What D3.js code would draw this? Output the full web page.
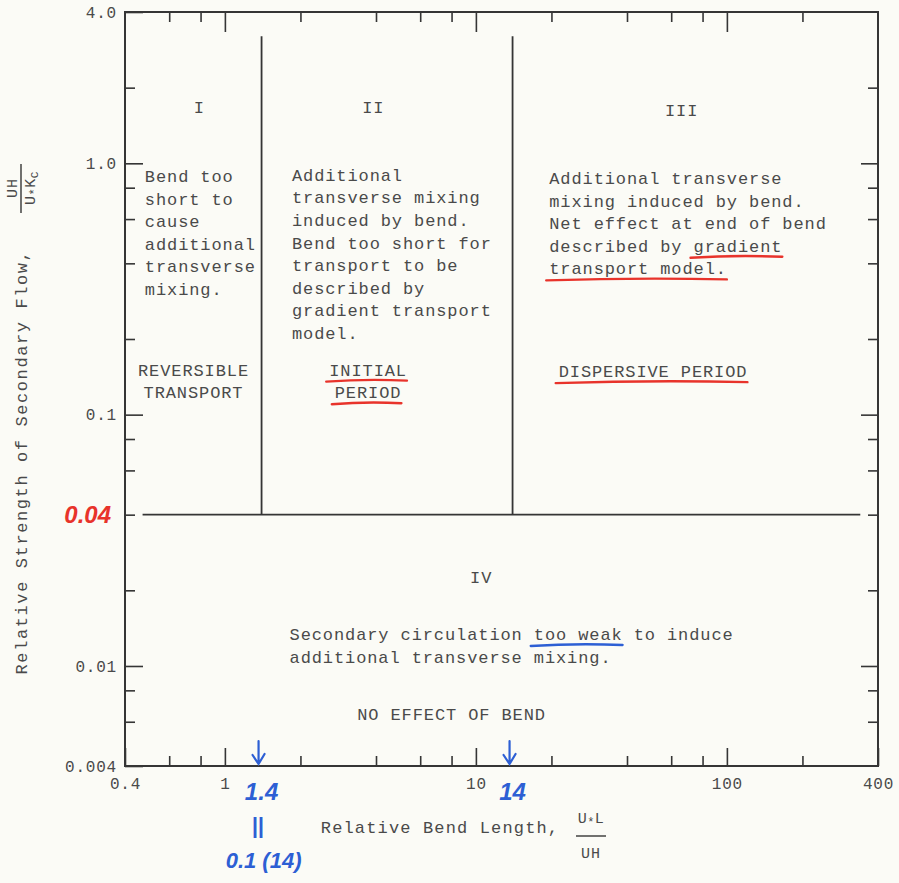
<!DOCTYPE html>
<html>
<head>
<meta charset="utf-8">
<script src="https://cdn.jsdelivr.net/npm/d3@7"></script>
<style>
body { margin: 0; background: #fbfbf6; }
svg { display: block; }
</style>
</head>
<body>
<script>
var width = 899,
    height = 883;

// axes (log-log)
var xDomain = [0.4, 400];
var yDomain = [0.004, 4];
var xMinorTicks = [0.6, 0.8, 2, 4, 6, 8, 20, 40, 60, 80, 200];
var xMajorTicks = [1, 10, 100];
var xLabelVals = [0.4, 1, 10, 100, 400];
var xLabelText = ['0.4', '1', '10', '100', '400'];
var yMinorTicks = [0.006, 0.008, 0.02, 0.04, 0.06, 0.08, 0.2, 0.4, 0.6, 0.8, 2];
var yMajorTicks = [0.01, 0.1, 1];
var yLabelVals = [0.004, 0.01, 0.1, 1, 4];
var yLabelText = ['0.004', '0.01', '0.1', '1.0', '4.0'];

// region boundaries
var flowLimit = 0.04;
var bendLimits = [1.4, 14];
var boundTop = 3.2;
var flowLineX = [0.47, 340];

// region texts
var regionNames = ['I', 'II', 'III', 'IV'];
var regionNameX = [0.79, 3.9, 66, 10.5];
var regionNameY = [1.68, 1.68, 1.63, 0.0225];
var regionText = [
    ['Bend too', 'short to', 'cause', 'additional', 'transverse', 'mixing.'],
    ['Additional', 'transverse mixing', 'induced by bend.', 'Bend too short for',
     'transport to be', 'described by', 'gradient transport', 'model.'],
    ['Additional transverse', 'mixing induced by bend.', 'Net effect at end of bend',
     'described by gradient', 'transport model.'],
    ['Secondary circulation too weak to induce', 'additional transverse mixing.']
];
var regionTextX = [0.48, 1.85, 19.6, 1.81];
var regionTextY = [0.89, 0.9, 0.874, 0.0134];
var periodNames = [['REVERSIBLE', 'TRANSPORT'], ['INITIAL', 'PERIOD'], ['DISPERSIVE PERIOD'], ['NO EFFECT OF BEND']];
var periodX = [0.75, 3.72, 50.8, 8];
var periodY = [0.151, 0.151, 0.149, 0.00644];

// pen marks: [block, index, line, firstChar, lastChar]
var redMarks = [['text', 2, 3, 13, 21], ['text', 2, 4, 0, 16], ['period', 1, 0, 0, 7], ['period', 1, 1, 0, 6], ['period', 2, 0, 0, 17]];
var blueMarks = [['text', 3, 0, 22, 30]];
var arrowsAt = [1.4, 14];

var ink = '#353535',
    type = '#4a4a4a',
    red = '#e8332b',
    blue = '#2d5fd4',
    mono = '"Liberation Mono", "DejaVu Sans Mono", monospace',
    hand = '"Liberation Sans", "DejaVu Sans", sans-serif';

var fs = 17, ls = 0.9, adv = fs * 0.6 + ls, lineH = 22.6;

var svg = d3.select('body').append('svg')
    .attr('width', width)
    .attr('height', height);

var x = d3.scaleLog().domain(xDomain).range([125, 878]);
var y = d3.scaleLog().domain(yDomain).range([766, 12]);

function styleAxis(g, fontSize) {
    g.attr('font-family', mono).attr('font-size', fontSize).attr('color', ink);
    g.select('.domain').remove();
    g.selectAll('line').attr('stroke-width', 1.6);
    g.selectAll('text').attr('fill', type).attr('letter-spacing', 0.8);
}

function axis(gen, vals, size, pad, labels, transform) {
    var g = svg.append('g').attr('transform', transform)
        .call(gen.tickValues(vals).tickSizeInner(size).tickSizeOuter(0).tickPadding(pad)
            .tickFormat(function (d, i) { return labels ? labels[i] : ''; }));
    styleAxis(g, 16);
    return g;
}

axis(d3.axisBottom(x), xMinorTicks, -10, 0, null, 'translate(0,766)');
axis(d3.axisBottom(x), xLabelVals, -18, 12, xLabelText, 'translate(0,766)');
axis(d3.axisTop(x), xMinorTicks, -10, 0, null, 'translate(0,12)');
axis(d3.axisTop(x), xMajorTicks, -20, 0, null, 'translate(0,12)');
axis(d3.axisLeft(y), yMinorTicks, -10, 0, null, 'translate(125,0)');
axis(d3.axisLeft(y), yLabelVals, -18, 8, yLabelText, 'translate(125,0)');
axis(d3.axisRight(y), yMinorTicks, -10, 0, null, 'translate(878,0)');
axis(d3.axisRight(y), yMajorTicks, -17, 0, null, 'translate(878,0)');

// frame
svg.append('rect')
    .attr('x', x(xDomain[0])).attr('y', y(yDomain[1]))
    .attr('width', x(xDomain[1]) - x(xDomain[0]))
    .attr('height', y(yDomain[0]) - y(yDomain[1]))
    .attr('fill', 'none').attr('stroke', ink).attr('stroke-width', 2);

// region boundaries
var line = d3.line().x(function (d) { return x(d[0]); }).y(function (d) { return y(d[1]); });
svg.append('path')
    .attr('d', line([[flowLineX[0], flowLimit], [flowLineX[1], flowLimit]]))
    .attr('stroke', ink).attr('stroke-width', 1.8).attr('fill', 'none');
svg.selectAll('.bound').data(bendLimits).enter().append('path')
    .attr('class', 'bound')
    .attr('d', function (d) { return line([[d, flowLimit], [d, boundTop]]); })
    .attr('stroke', ink).attr('stroke-width', 1.8).attr('fill', 'none');

function typed(sel) {
    return sel.attr('font-family', mono).attr('font-size', fs)
        .attr('letter-spacing', ls).attr('fill', type);
}

// roman numerals
typed(svg.selectAll('.rname').data(regionNames).enter().append('text'))
    .attr('class', 'rname')
    .attr('x', function (d, i) { return x(regionNameX[i]); })
    .attr('y', function (d, i) { return y(regionNameY[i]); })
    .attr('dy', '0.35em')
    .attr('text-anchor', 'middle')
    .text(function (d) { return d; });

// descriptive text blocks
regionText.forEach(function (lines, i) {
    typed(svg.selectAll('.rt' + i).data(lines).enter().append('text'))
        .attr('x', x(regionTextX[i]))
        .attr('y', function (d, j) { return y(regionTextY[i]) + j * lineH; })
        .attr('dy', '0.35em')
        .text(function (d) { return d; });
});

periodNames.forEach(function (lines, i) {
    typed(svg.selectAll('.pn' + i).data(lines).enter().append('text'))
        .attr('x', x(periodX[i]))
        .attr('y', function (d, j) { return y(periodY[i]) + j * lineH; })
        .attr('dy', '0.35em')
        .attr('text-anchor', 'middle')
        .text(function (d) { return d; });
});

// hand underlines
function markPath(m) {
    var blk = m[0], i = m[1], j = m[2], a = m[3], b = m[4], x0, yy;
    if (blk === 'text') {
        x0 = x(regionTextX[i]);
        yy = y(regionTextY[i]) + j * lineH + 11;
    } else {
        x0 = x(periodX[i]) - (periodNames[i][j].length * adv) / 2;
        yy = y(periodY[i]) + j * lineH + 11;
    }
    var xa = x0 + a * adv - 3, xb = x0 + b * adv;
    return 'M' + xa + ',' + (yy + 1) + 'Q' + ((xa + xb) / 2) + ',' + (yy - 2) + ' ' + xb + ',' + yy;
}
svg.selectAll('.red').data(redMarks).enter().append('path')
    .attr('d', markPath).attr('fill', 'none').attr('stroke', red)
    .attr('stroke-width', 2.4).attr('stroke-linecap', 'round');
svg.selectAll('.blue').data(blueMarks).enter().append('path')
    .attr('d', markPath).attr('fill', 'none').attr('stroke', blue)
    .attr('stroke-width', 2.4).attr('stroke-linecap', 'round');

// axis titles
typed(svg.append('text'))
    .attr('x', 440).attr('y', 827).attr('dy', '0.35em')
    .attr('text-anchor', 'middle').attr('letter-spacing', 1.15)
    .text('Relative Bend Length,');
var fx = 591;
typed(svg.append('text'))
    .attr('x', fx).attr('y', 818).attr('dy', '0.35em')
    .attr('text-anchor', 'middle').attr('font-size', 15).attr('letter-spacing', 0.5)
    .html('U<tspan font-size="12" dy="3">*</tspan><tspan dy="-3">L</tspan>');
svg.append('line').attr('x1', fx - 15).attr('x2', fx + 15).attr('y1', 836).attr('y2', 836)
    .attr('stroke', ink).attr('stroke-width', 1.4);
typed(svg.append('text'))
    .attr('x', fx).attr('y', 853).attr('dy', '0.35em')
    .attr('text-anchor', 'middle').attr('font-size', 15)
    .text('UH');

typed(svg.append('text'))
    .attr('transform', 'translate(21,462) rotate(-90)')
    .attr('dy', '0.35em')
    .attr('text-anchor', 'middle').attr('letter-spacing', 1.6)
    .text('Relative Strength of Secondary Flow,');
typed(svg.append('text'))
    .attr('transform', 'translate(12,188) rotate(-90)')
    .attr('dy', '0.35em').attr('text-anchor', 'middle').attr('font-size', 15)
    .text('UH');
svg.append('line').attr('x1', 21).attr('x2', 21).attr('y1', 164).attr('y2', 213)
    .attr('stroke', ink).attr('stroke-width', 1.4);
typed(svg.append('text'))
    .attr('transform', 'translate(30,188) rotate(-90)')
    .attr('dy', '0.35em').attr('text-anchor', 'middle').attr('font-size', 15).attr('letter-spacing', 0.5)
    .html('U<tspan font-size="12" dy="3">*</tspan><tspan dy="-3">K</tspan><tspan font-size="11" dy="3">C</tspan>');

// handwritten notes
function pen(sel, color, size) {
    return sel.attr('font-family', hand).attr('font-style', 'italic').attr('font-weight', 'bold')
        .attr('font-size', size).attr('fill', color);
}
pen(svg.append('text'), red, 24)
    .attr('x', x(xDomain[0]) - 14).attr('y', y(flowLimit)).attr('dy', '0.35em')
    .attr('text-anchor', 'end').text('0.04');

svg.selectAll('.arrow').data(arrowsAt).enter().append('path')
    .attr('d', function (d) {
        var ax = x(d) - 3, y0 = y(yDomain[0]);
        return 'M' + ax + ',' + (y0 - 25) + 'L' + ax + ',' + (y0 - 2) +
            'M' + (ax - 6) + ',' + (y0 - 11) + 'L' + ax + ',' + (y0 - 2) + 'L' + (ax + 6) + ',' + (y0 - 12);
    })
    .attr('fill', 'none').attr('stroke', blue).attr('stroke-width', 2.2).attr('stroke-linecap', 'round');

pen(svg.selectAll('.bnum').data(arrowsAt).enter().append('text'), blue, 24)
    .attr('x', function (d) { return x(d); })
    .attr('y', y(yDomain[0]) + 26).attr('dy', '0.35em')
    .attr('text-anchor', 'middle')
    .text(function (d) { return d; });
pen(svg.append('text'), blue, 22)
    .attr('x', x(bendLimits[0]) - 4).attr('y', y(yDomain[0]) + 59).attr('dy', '0.35em')
    .attr('text-anchor', 'middle').text('||');
pen(svg.append('text'), blue, 22)
    .attr('x', x(bendLimits[0]) + 2).attr('y', y(yDomain[0]) + 94).attr('dy', '0.35em')
    .attr('text-anchor', 'middle').text('0.1 (14)');
</script>
</body>
</html>
